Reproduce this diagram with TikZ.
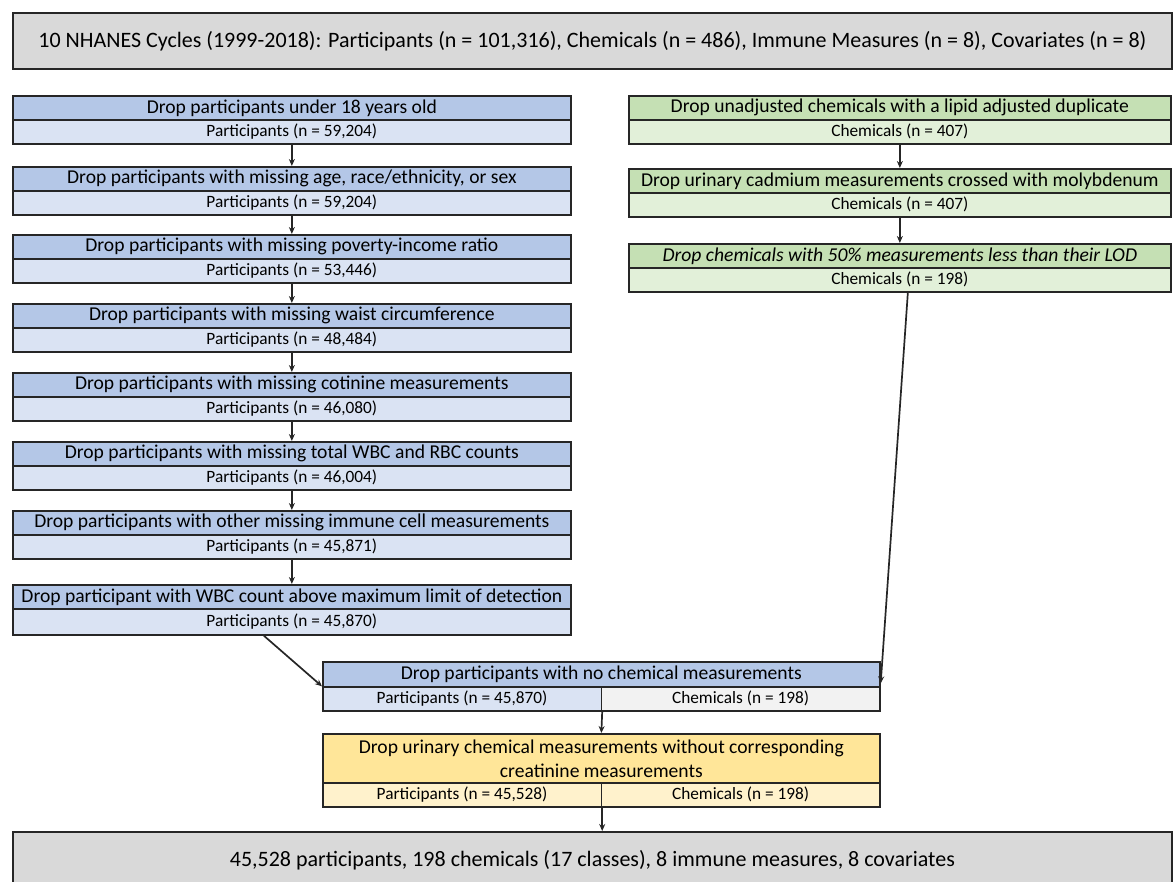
\documentclass[tikz,border=0pt]{standalone}
\usepackage{fontspec}
\setmainfont{Carlito}
\usetikzlibrary{arrows.meta}
\definecolor{hb}{HTML}{B4C7E7}
\definecolor{sb}{HTML}{DAE3F3}
\definecolor{hg}{HTML}{C5E0B4}
\definecolor{sg}{HTML}{E2F0D9}
\definecolor{gr}{HTML}{D9D9D9}
\definecolor{sgr}{HTML}{F2F2F2}
\definecolor{hy}{HTML}{FFE699}
\definecolor{sy}{HTML}{FFF2CC}
\tikzset{
  box/.style={draw=black!85, line width=1.7pt, inner sep=0pt, anchor=north west, align=center},
  hdrL/.style={box, fill=hb, minimum width=558pt, minimum height=24pt, font=\fontsize{19.6}{22}\selectfont},
  subL/.style={box, fill=sb, minimum width=558pt, minimum height=24pt, font=\fontsize{17.3}{20}\selectfont},
  hdrR/.style={box, fill=hg, minimum width=542pt, minimum height=24pt, font=\fontsize{19.6}{22}\selectfont},
  subR/.style={box, fill=sg, minimum width=542pt, minimum height=24pt, font=\fontsize{17.3}{20}\selectfont},
  subH/.style={box, minimum width=278.5pt, minimum height=24pt, font=\fontsize{17.3}{20}\selectfont},
  arr/.style={-{Stealth[length=7pt,width=6pt]}, line width=1.7pt, black!85},
}
\begin{document}
\begin{tikzpicture}[x=1pt,y=-1pt]
\useasboundingbox (0,0) rectangle (1173,882);
\clip (0,0) rectangle (1173,882);
% top
\node[box, fill=gr, minimum width=1159pt, minimum height=56pt, font=\fontsize{22}{26}\selectfont] (top) at (12,12) {10 NHANES Cycles (1999-2018): Participants (n = 101,316), Chemicals (n = 486), Immune Measures (n = 8), Covariates (n = 8)};
% left column
\node[hdrL] (l1h) at (12,95) {Drop participants under 18 years old};
\node[subL] (l1s) at (12,119) {Participants (n = 59,204)};
\node[hdrL] (l2h) at (12,166) {Drop participants with missing age, race/ethnicity, or sex};
\node[subL] (l2s) at (12,190) {Participants (n = 59,204)};
\node[hdrL] (l3h) at (12,234) {Drop participants with missing poverty-income ratio};
\node[subL] (l3s) at (12,258) {Participants (n = 53,446)};
\node[hdrL] (l4h) at (12,303) {Drop participants with missing waist circumference};
\node[subL] (l4s) at (12,327) {Participants (n = 48,484)};
\node[hdrL] (l5h) at (12,372) {Drop participants with missing cotinine measurements};
\node[subL] (l5s) at (12,396) {Participants (n = 46,080)};
\node[hdrL] (l6h) at (12,441) {Drop participants with missing total WBC and RBC counts};
\node[subL] (l6s) at (12,465) {Participants (n = 46,004)};
\node[hdrL] (l7h) at (12,510) {Drop participants with other missing immune cell measurements};
\node[subL] (l7s) at (12,534) {Participants (n = 45,871)};
\node[hdrL] (l8h) at (12,584) {Drop participant with WBC count above maximum limit of detection};
\node[subL, minimum height=26pt] (l8s) at (12,608) {Participants (n = 45,870)};
\foreach \a/\b in {l1s/l2h,l2s/l3h,l3s/l4h,l4s/l5h,l5s/l6h,l6s/l7h,l7s/l8h}
  \draw[arr] (\a.south) -- (\b.north);
% right column
\node[hdrR] (r1h) at (628,95) {Drop unadjusted chemicals with a lipid adjusted duplicate};
\node[subR] (r1s) at (628,119) {Chemicals (n = 407)};
\node[hdrR] (r2h) at (628,168) {Drop urinary cadmium measurements crossed with molybdenum};
\node[subR] (r2s) at (628,192) {Chemicals (n = 407)};
\node[hdrR] (r3h) at (628,243) {\itshape Drop chemicals with 50\% measurements less than their LOD};
\node[subR] (r3s) at (628,267) {Chemicals (n = 198)};
\draw[arr] (r1s.south) -- (r2h.north);
\draw[arr] (r2s.south) -- (r3h.north);
% merged
\node[box, fill=hb, minimum width=557pt, minimum height=25pt, font=\fontsize{19.6}{22}\selectfont] (m1h) at (322,661) {Drop participants with no chemical measurements};
\node[subH, fill=sb] (m1p) at (322,686) {Participants (n = 45,870)};
\node[subH, fill=sgr] (m1c) at (600.5,686) {Chemicals (n = 198)};
\node[box, fill=hy, minimum width=557pt, minimum height=49pt, font=\fontsize{19.6}{24}\selectfont] (m2h) at (322,733) {Drop urinary chemical measurements without corresponding\\creatinine measurements};
\node[subH, fill=sy] (m2p) at (322,782) {Participants (n = 45,528)};
\node[subH, fill=sy] (m2c) at (600.5,782) {Chemicals (n = 198)};
\draw[arr] ([xshift=-28pt]l8s.south) -- ([yshift=-12pt]m1h.west);
\draw[arr] ([xshift=8pt]r3s.south) -- ([yshift=-9pt]m1h.east);
\draw[arr] (m1p.south east) -- (m2h.north);
% bottom
\node[box, fill=gr, minimum width=1159pt, minimum height=60pt, font=\fontsize{22}{26}\selectfont, text depth=0pt] (bot) at (12,831) {\raisebox{6pt}{45,528 participants, 198 chemicals (17 classes), 8 immune measures, 8 covariates}};
\draw[arr] (m2p.south east) -- (bot.north -| m2p.south east);
\end{tikzpicture}
\end{document}
